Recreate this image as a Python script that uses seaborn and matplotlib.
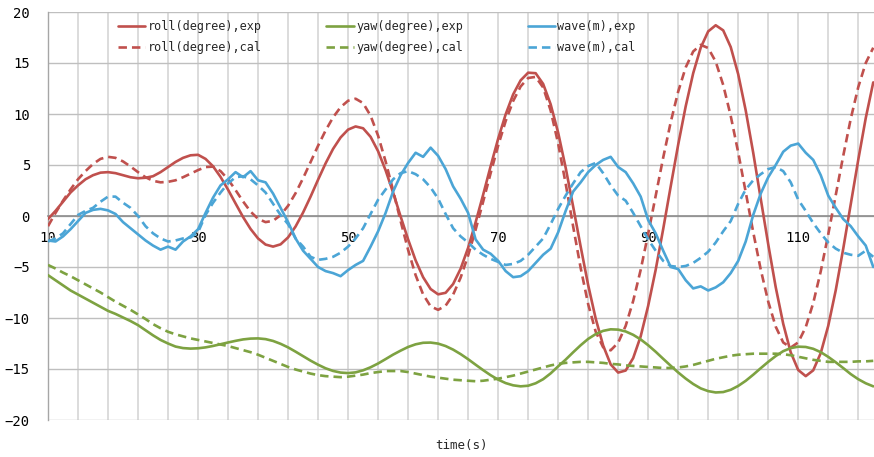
import matplotlib
matplotlib.use("Agg")
import matplotlib.pyplot as plt
import seaborn as sns

# --- DATA (1 s steps) ---
time_s = list(range(10, 121))

roll_exp = [
    -0.3, 0.5, 1.4, 2.3, 3.0, 3.6, 4.0, 4.25, 4.3, 4.2,
    4.0, 3.8, 3.7, 3.75, 3.9, 4.3, 4.8, 5.3, 5.7, 5.95,
    6.0, 5.6, 4.87, 3.83, 2.58, 1.23, -0.1, -1.27, -2.2, -2.8,
    -3.0, -2.78, -2.1, -1.03, 0.34, 1.9, 3.56, 5.16, 6.58, 7.7,
    8.47, 8.78, 8.6, 7.76, 6.35, 4.48, 2.3, -0.04, -2.3, -4.35,
    -6.0, -7.16, -7.68, -7.53, -6.67, -5.17, -3.12, -0.61, 2.08, 4.88,
    7.57, 9.96, 11.92, 13.3, 14.05, 14.0, 12.95, 10.95, 8.17, 4.74,
    0.92, -3.0, -6.77, -10.05, -12.7, -14.55, -15.35, -15.15, -13.93, -11.8,
    -8.8, -5.27, -1.28, 2.9, 7.0, 10.75, 14.0, 16.5, 18.1, 18.7,
    18.2, 16.57, 13.9, 10.35, 6.2, 1.7, -2.77, -6.98, -10.57, -13.37,
    -15.1, -15.7, -15.13, -13.44, -10.77, -7.28, -3.2, 1.15, 5.5, 9.6,
    13.1,
]
roll_cal = [
    -1.0, 0.3, 1.5, 2.6, 3.6, 4.4, 5.1, 5.6, 5.8, 5.7,
    5.35, 4.85, 4.3, 3.8, 3.45, 3.3, 3.35, 3.5, 3.8, 4.15,
    4.5, 4.8, 4.84, 4.4, 3.59, 2.54, 1.43, 0.43, -0.28, -0.6,
    -0.47, 0.08, 1.0, 2.24, 3.7, 5.29, 6.89, 8.38, 9.67, 10.67,
    11.3, 11.5, 11.07, 9.83, 7.87, 5.35, 2.5, -0.49, -3.32, -5.8,
    -7.69, -8.86, -9.2, -8.79, -7.71, -6.04, -3.87, -1.34, 1.4, 4.2,
    6.9, 9.3, 11.27, 12.7, 13.53, 13.64, 12.6, 10.34, 7.1, 3.18,
    -1.03, -5.09, -8.64, -11.33, -12.88, -13.17, -12.42, -10.77, -8.33, -5.28,
    -1.74, 1.98, 5.72, 9.19, 12.2, 14.57, 16.13, 16.78, 16.47, 15.13,
    12.85, 9.82, 6.23, 2.34, -1.58, -5.24, -8.39, -10.85, -12.4, -12.9,
    -12.39, -10.9, -8.53, -5.43, -1.81, 2.05, 5.9, 9.53, 12.63, 15.0,
    16.5,
]
yaw_exp = [
    -5.8, -6.3, -6.8, -7.3, -7.7, -8.1, -8.5, -8.9, -9.3, -9.6,
    -9.95, -10.3, -10.7, -11.2, -11.7, -12.15, -12.5, -12.8, -12.95, -13.0,
    -12.97, -12.88, -12.74, -12.57, -12.4, -12.24, -12.1, -12.02, -12.0, -12.07,
    -12.25, -12.53, -12.88, -13.3, -13.74, -14.18, -14.58, -14.93, -15.19, -15.35,
    -15.4, -15.33, -15.13, -14.83, -14.46, -14.03, -13.59, -13.2, -12.84, -12.58,
    -12.43, -12.41, -12.51, -12.75, -13.1, -13.54, -14.04, -14.58, -15.11, -15.61,
    -16.04, -16.38, -16.6, -16.7, -16.64, -16.4, -16.0, -15.43, -14.74, -14.08,
    -13.36, -12.67, -12.05, -11.58, -11.26, -11.11, -11.14, -11.32, -11.65, -12.1,
    -12.67, -13.31, -14.0, -14.68, -15.34, -15.94, -16.47, -16.9, -17.17, -17.3,
    -17.26, -17.04, -16.66, -16.16, -15.56, -14.92, -14.3, -13.73, -13.25, -12.95,
    -12.81, -12.84, -13.02, -13.35, -13.81, -14.34, -14.91, -15.5, -16.0, -16.4,
    -16.7,
]
yaw_cal = [
    -4.8, -5.15, -5.55, -5.9, -6.3, -6.7, -7.1, -7.5, -7.95, -8.4,
    -8.8, -9.2, -9.65, -10.1, -10.6, -11.0, -11.35, -11.6, -11.8, -12.0,
    -12.15, -12.3, -12.45, -12.6, -12.75, -12.95, -13.15, -13.35, -13.6, -13.9,
    -14.2, -14.5, -14.8, -15.05, -15.25, -15.45, -15.6, -15.7, -15.75, -15.8,
    -15.75, -15.65, -15.55, -15.4, -15.3, -15.2, -15.2, -15.2, -15.3, -15.45,
    -15.6, -15.75, -15.85, -15.95, -16.05, -16.1, -16.15, -16.2, -16.15, -16.05,
    -15.95, -15.8, -15.65, -15.45, -15.25, -15.05, -14.85, -14.65, -14.5, -14.4,
    -14.35, -14.3, -14.3, -14.35, -14.4, -14.5, -14.55, -14.65, -14.7, -14.75,
    -14.8, -14.85, -14.9, -14.9, -14.85, -14.75, -14.6, -14.4, -14.2, -14.0,
    -13.85, -13.7, -13.6, -13.55, -13.5, -13.5, -13.5, -13.5, -13.55, -13.65,
    -13.8, -13.95, -14.1, -14.2, -14.3, -14.3, -14.3, -14.3, -14.25, -14.25,
    -14.2,
]
wave_exp = [
    -2.4, -2.5, -2.0, -1.3, -0.5, 0.3, 0.6, 0.7, 0.55, 0.2,
    -0.6, -1.2, -1.8, -2.4, -2.9, -3.3, -3.0, -3.3, -2.5, -2.0,
    -1.3, 0.3, 1.8, 3.0, 3.6, 4.3, 3.8, 4.4, 3.5, 3.3,
    2.2, 0.8, -0.6, -2.2, -3.4, -4.2, -5.0, -5.4, -5.6, -5.9,
    -5.3, -4.8, -4.4, -3.0, -1.5, 0.3, 2.4, 4.0, 5.2, 6.2,
    5.8, 6.7, 5.9, 4.6, 2.9, 1.7, 0.3, -2.3, -3.3, -3.7,
    -4.4, -5.4, -6.0, -5.9, -5.4, -4.6, -3.8, -3.2, -1.6, 0.5,
    2.4, 3.3, 4.3, 5.0, 5.5, 5.8, 4.8, 4.3, 3.2, 1.9,
    -0.4, -1.7, -3.4, -5.0, -5.2, -6.3, -7.1, -6.9, -7.3, -7.0,
    -6.5, -5.6, -4.4, -2.5, 0.1, 2.2, 3.8, 5.0, 6.3, 6.9,
    7.1, 6.2, 5.5, 4.0, 2.0, 0.8, -0.3, -1.0, -2.0, -2.9,
    -5.0,
]
wave_cal = [
    -2.5, -2.2, -1.7, -0.8, 0.1, 0.5, 0.8, 1.4, 1.9, 1.9,
    1.3, 0.8, 0.0, -1.0, -1.7, -2.2, -2.5, -2.4, -2.2, -2.1,
    -1.6, 0.1, 1.3, 2.3, 3.2, 3.8, 3.9, 3.6, 3.0, 2.3,
    1.2, 0.1, -0.8, -2.2, -3.0, -4.0, -4.3, -4.2, -4.0, -3.6,
    -3.0, -2.2, -1.2, 0.2, 1.6, 2.6, 3.6, 4.2, 4.4, 4.1,
    3.6, 2.8, 1.7, 0.2, -1.2, -2.0, -2.6, -3.3, -3.8, -4.2,
    -4.5, -4.8, -4.7, -4.4, -3.8, -3.0, -2.2, -0.8, 0.7, 2.0,
    3.2, 4.3, 4.9, 5.2, 4.2, 3.0, 2.0, 1.5, 0.3, -1.0,
    -2.3, -3.4, -4.4, -4.9, -5.0, -4.9, -4.6, -4.1, -3.5, -2.6,
    -1.5, -0.5, 1.2, 2.6, 3.5, 4.1, 4.6, 4.8, 4.4, 3.3,
    1.6, 0.5, -0.7, -1.7, -2.6, -3.2, -3.6, -3.8, -3.9, -3.4,
    -4.0,
]

x_ticks = list(range(10, 119, 4))
x_labels = [str(v) if (v - 10) % 20 == 0 else "" for v in x_ticks]
y_ticks = list(range(-20, 21, 5))

RED, GREEN, BLUE = "#C0504D", "#7DA241", "#4BA5D6"
DASH = (0, (3.2, 1.9))

sns.set_style("white")
plt.rcParams["font.family"] = ["DejaVu Sans Mono", "DejaVu Sans"]

fig = plt.figure(figsize=(8.74, 4.57), dpi=100)
ax = fig.add_axes([48 / 874, 1 - 420 / 457, 826 / 874, 408 / 457])

series = [
    ("roll(degree),exp", roll_exp, RED, "-"),
    ("roll(degree),cal", roll_cal, RED, DASH),
    ("yaw(degree),exp", yaw_exp, GREEN, "-"),
    ("yaw(degree),cal", yaw_cal, GREEN, DASH),
    ("wave(m),exp", wave_exp, BLUE, "-"),
    ("wave(m),cal", wave_cal, BLUE, DASH),
]
for label, vals, col, ls in series:
    sns.lineplot(x=time_s, y=vals, ax=ax, color=col, linestyle=ls,
                 linewidth=1.9, label=label, sort=False, zorder=3)

ax.set_xlim(10, 120.1)
ax.set_ylim(-20, 20)
ax.set_xticks(x_ticks)
ax.set_xticklabels(x_labels)
ax.set_yticks(y_ticks)
ax.set_xlabel("")
ax.set_ylabel("")

# grid: light vertical, slightly darker horizontal
ax.xaxis.grid(True, color="#D9D9D9", linewidth=1.3)
ax.yaxis.grid(True, color="#BFBFBF", linewidth=1.0)
ax.set_axisbelow(True)

for side in ["top", "right"]:
    ax.spines[side].set_visible(False)
ax.spines["left"].set_color("#A6A6A6")
ax.spines["left"].set_linewidth(1.0)
ax.spines["bottom"].set_position(("data", 0))
ax.spines["bottom"].set_color("#8C8C8C")
ax.spines["bottom"].set_linewidth(1.2)

ax.tick_params(axis="x", length=0, pad=11, labelsize=10, colors="black")
ax.tick_params(axis="y", length=0, pad=13, labelsize=10, colors="black")

ax.legend(loc="upper left", bbox_to_anchor=(0.0847, 0.98), ncol=3,
          frameon=False, fontsize=8.5, handlelength=2.3, handletextpad=0.2,
          columnspacing=5.5, labelspacing=0.65, borderpad=0, borderaxespad=0)

fig.text(461 / 874, 1 - 446 / 457, "time(s)", ha="center", va="center",
         fontsize=9)

plt.savefig("out.png", dpi=100)
plt.close()
